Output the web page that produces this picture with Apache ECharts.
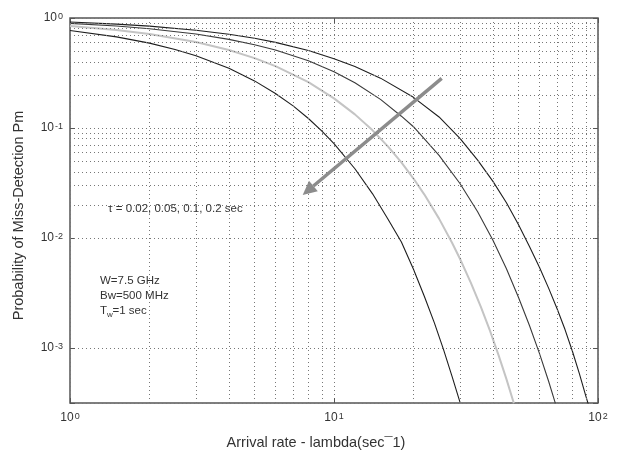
<!DOCTYPE html>
<html>
<head>
<meta charset="utf-8">
<script src="https://cdn.jsdelivr.net/npm/echarts@6/dist/echarts.min.js"></script>
<style>
html,body{margin:0;padding:0;background:#fff}
#chart{width:618px;height:457px}
</style>
</head>
<body>
<div id="chart"></div>
<script>
// arrival rate lambda (1/sec) and miss-detection probability, one pair of lists per curve
var lambdaA = [1, 1.5, 2, 2.5, 3, 4, 5, 6, 7, 8, 9, 10, 12, 14, 16, 18, 20, 22, 24, 26, 28, 30];
var pmA = [0.769, 0.674, 0.591, 0.518, 0.454, 0.349, 0.268, 0.206, 0.159, 0.122, 0.0938, 0.0721, 0.0426, 0.0252, 0.0149, 0.0092, 0.00519, 0.00294, 0.00169, 0.000966, 0.000551, 0.000322];

var lambdaB = [1, 1.5, 2, 3, 4, 5, 6, 8, 10, 12, 14, 16, 18, 20, 22, 25, 28, 30, 33, 36, 39, 42, 45, 48];
var pmB = [0.845, 0.777, 0.715, 0.604, 0.511, 0.432, 0.365, 0.261, 0.186, 0.133, 0.0952, 0.0680, 0.0486, 0.0347, 0.0248, 0.0150, 0.00906, 0.00647, 0.00391, 0.00236, 0.00143, 0.000862, 0.000521, 0.000314];

var lambdaC = [1, 1.5, 2, 3, 4, 5, 6, 8, 10, 12, 15, 18, 20, 25, 30, 35, 40, 45, 50, 55, 60, 65, 69];
var pmC = [0.894, 0.845, 0.799, 0.715, 0.639, 0.571, 0.511, 0.408, 0.325, 0.258, 0.182, 0.128, 0.1027, 0.0564, 0.0313, 0.0173, 0.00954, 0.00526, 0.00288, 0.00160, 0.000893, 0.000498, 0.000312];

var lambdaD = [1, 1.5, 2, 3, 4, 5, 6, 8, 10, 12, 15, 20, 25, 30, 35, 40, 45, 50, 55, 60, 65, 70, 75, 80, 85, 90, 92];
var pmD = [0.919, 0.880, 0.844, 0.775, 0.712, 0.654, 0.600, 0.507, 0.427, 0.363, 0.284, 0.190, 0.126, 0.0805, 0.0511, 0.0327, 0.0209, 0.0132, 0.00836, 0.00541, 0.00350, 0.00227, 0.00147, 0.000934, 0.000584, 0.000363, 0.000305];

// minor grid positions (2..9 in every decade)
var minorX = [2, 3, 4, 5, 6, 7, 8, 9, 20, 30, 40, 50, 60, 70, 80, 90];
var minorY = [0.0004, 0.0005, 0.0006, 0.0007, 0.0008, 0.0009,
    0.002, 0.003, 0.004, 0.005, 0.006, 0.007, 0.008, 0.009,
    0.02, 0.03, 0.04, 0.05, 0.06, 0.07, 0.08, 0.09,
    0.2, 0.3, 0.4, 0.5, 0.6, 0.7, 0.8, 0.9];

var xMin = 1, xMax = 100;
var yMin = 0.000316, yMax = 1;

var font = '"Liberation Sans", Arial, sans-serif';
var gridDots = {color: '#777', width: 1, type: [1, 3]};

function pairs(xs, ys) {
    return xs.map(function (x, i) { return [x, ys[i]]; });
}

// 10^n labels, hide the bottom edge value
function powLabel(v) {
    var e = Math.log10(v);
    var n = Math.round(e);
    if (Math.abs(e - n) > 1e-6) return '';
    return '10{sup|' + n + '}';
}
var labelRich = {sup: {fontSize: 9, verticalAlign: 'top', lineHeight: 12, color: '#333', fontFamily: font, padding: [0, 0, 0, 1]}};

var myChart = echarts.init(document.getElementById('chart'), null, {renderer: 'canvas'});

var option = {
    animation: false,
    backgroundColor: '#fff',
    grid: {left: 70, right: 20, top: 18, bottom: 54, show: true, borderColor: '#555', borderWidth: 1.5, containLabel: false},
    xAxis: [
        {
            type: 'log', logBase: 10, min: xMin, max: xMax,
            name: 'Arrival rate - lambda(sec\u00AF1)', nameLocation: 'middle', nameGap: 32,
            nameTextStyle: {fontFamily: font, fontSize: 14.5, color: '#333', padding: [0, 36, 0, 0]},
            axisLine: {show: false},
            axisTick: {inside: true, length: 5, lineStyle: {color: '#555'}},
            axisLabel: {margin: 9, formatter: powLabel, rich: labelRich, fontFamily: font, fontSize: 12, color: '#333'},
            splitLine: {show: true, lineStyle: gridDots}
        },
        {
            type: 'log', logBase: 10, min: xMin, max: xMax, position: 'top',
            axisLine: {show: false},
            axisTick: {inside: true, length: 5, lineStyle: {color: '#555'}},
            axisLabel: {show: false}, splitLine: {show: false}
        }
    ],
    yAxis: [
        {
            type: 'log', logBase: 10, min: yMin, max: yMax,
            name: 'Probability of Miss-Detection Pm', nameLocation: 'middle', nameGap: 44,
            nameTextStyle: {fontFamily: font, fontSize: 14.5, color: '#333', padding: [0, 10, 0, 0]},
            axisLine: {show: false},
            axisTick: {inside: true, length: 5, lineStyle: {color: '#555'}},
            axisLabel: {margin: 7, formatter: powLabel, rich: labelRich, fontFamily: font, fontSize: 12, color: '#333'},
            splitLine: {show: true, lineStyle: gridDots}
        },
        {
            type: 'log', logBase: 10, min: yMin, max: yMax, position: 'right',
            axisLine: {show: false},
            axisTick: {inside: true, length: 5, lineStyle: {color: '#555'}},
            axisLabel: {show: false}, splitLine: {show: false}
        }
    ],
    series: [
        {
            // minor grid only
            type: 'line', data: [], silent: true,
            markLine: {
                silent: true, symbol: ['none', 'none'], label: {show: false},
                lineStyle: gridDots, emphasis: {disabled: true},
                data: minorX.map(function (v) { return {xAxis: v}; })
                    .concat(minorY.map(function (v) { return {yAxis: v}; }))
            }
        },
        {type: 'line', data: pairs(lambdaA, pmA), symbol: 'none', clip: true, lineStyle: {color: '#1e1e1e', width: 1.1}},
        {type: 'line', data: pairs(lambdaB, pmB), symbol: 'none', clip: true, lineStyle: {color: '#c4c4c4', width: 2}},
        {type: 'line', data: pairs(lambdaC, pmC), symbol: 'none', clip: true, lineStyle: {color: '#3a3a3a', width: 1.1}},
        {type: 'line', data: pairs(lambdaD, pmD), symbol: 'none', clip: true, lineStyle: {color: '#1e1e1e', width: 1.1}}
    ],
    graphic: [
        {type: 'line', z: 100, shape: {x1: 441.7, y1: 78.3, x2: 313.4, y2: 186}, style: {stroke: '#8c8c8c', lineWidth: 3.5}},
        {type: 'polygon', z: 100, shape: {points: [[302.7, 195], [317.8, 191.2], [309, 180.8]]}, style: {fill: '#8c8c8c'}},
        {type: 'text', z: 100, x: 108, y: 203, style: {text: '\u03C4 = 0.02, 0.05, 0.1, 0.2 sec', font: '11.5px ' + font, fill: '#333'}},
        {type: 'text', z: 100, x: 100, y: 275, style: {text: 'W=7.5 GHz', font: '11.5px ' + font, fill: '#333'}},
        {type: 'text', z: 100, x: 100, y: 290, style: {text: 'Bw=500 MHz', font: '11.5px ' + font, fill: '#333'}},
        {type: 'text', z: 100, x: 100, y: 305, style: {text: 'T', font: '11.5px ' + font, fill: '#333'}},
        {type: 'text', z: 100, x: 107, y: 311, style: {text: 'w', font: '8px ' + font, fill: '#333'}},
        {type: 'text', z: 100, x: 112.5, y: 305, style: {text: '=1 sec', font: '11.5px ' + font, fill: '#333'}}
    ]
};

myChart.setOption(option);
</script>
</body>
</html>
